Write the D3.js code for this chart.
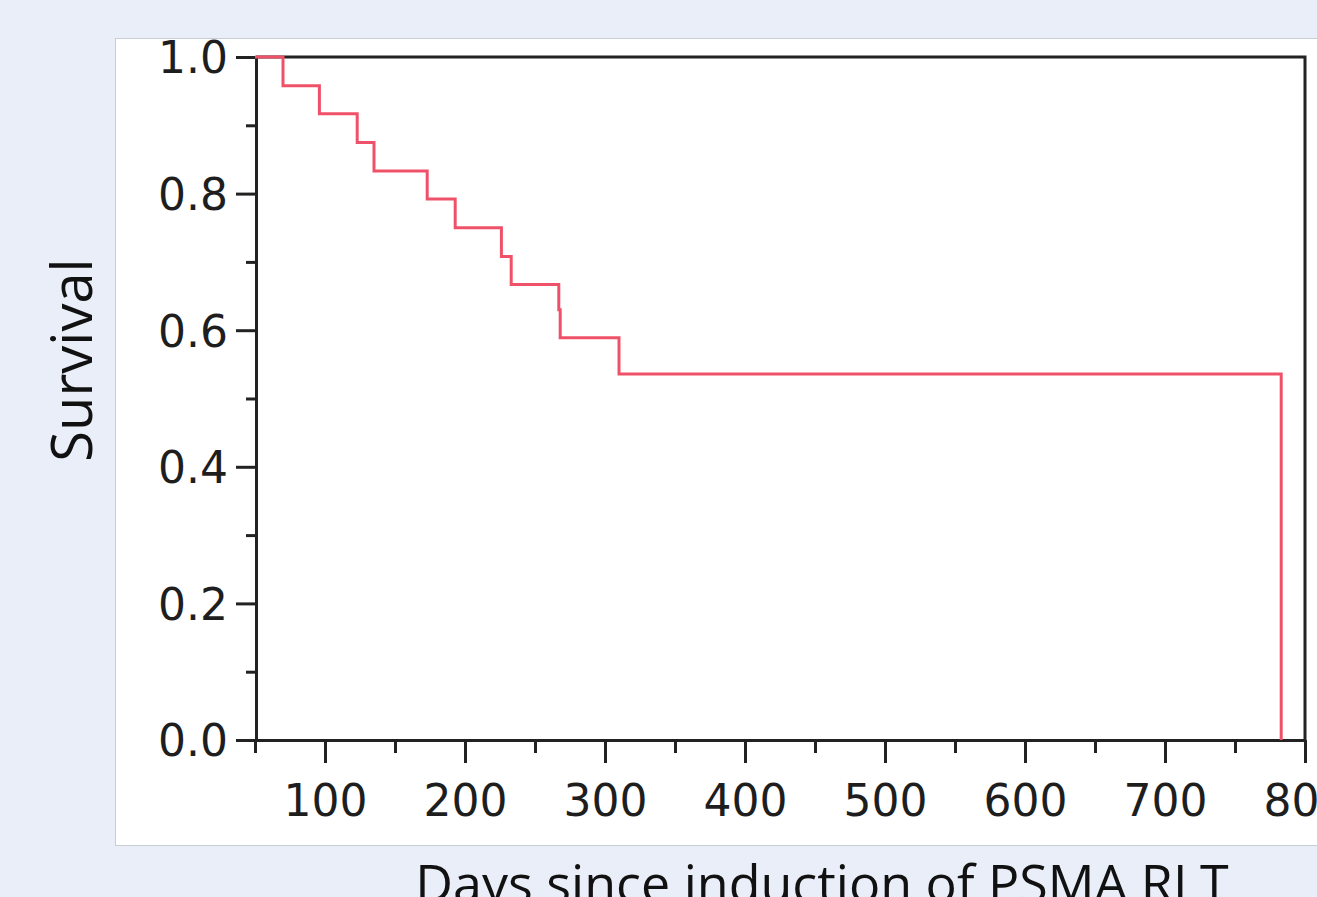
<!DOCTYPE html>
<html>
<head>
<meta charset="utf-8">
<script src="https://cdn.jsdelivr.net/npm/d3@7"></script>
<style>
  html, body { margin: 0; padding: 0; background: #e9eef8; overflow: hidden; }
  #chart { width: 1317px; height: 897px; }
  .tick text { font-family: "DejaVu Sans", Verdana, sans-serif; fill: #1e1e1e; }
</style>
</head>
<body>
<div id="chart"></div>
<script>
(function () {

  // Kaplan-Meier steps
  const days = [50, 70, 96, 123, 135, 173, 193, 226, 233, 267, 268, 310, 783]
  const survival = [1.0, 0.958, 0.917, 0.875, 0.833, 0.792, 0.75, 0.708, 0.667, 0.63, 0.589, 0.536, 0]

  // Tick values
  const xMajor = [100, 200, 300, 400, 500, 600, 700, 800]
  const xMinor = [50, 150, 250, 350, 450, 550, 650, 750]
  const yMajor = [0, 0.2, 0.4, 0.6, 0.8, 1.0]
  const yMinor = [0.1, 0.3, 0.5, 0.7, 0.9]

  const W = 1317
  const H = 897
  const plot = { left: 256, right: 1305, top: 57, bottom: 740 }

  const svg = d3.select("#chart").append("svg")
      .attr("width", W)
      .attr("height", H)

  // White panel
  svg.append("rect")
    .attr("x", 115.5)
    .attr("y", 38.5)
    .attr("width", W)
    .attr("height", 845 - 38)
    .attr("fill", "#ffffff")
    .attr("stroke", "#c9ced6")
    .attr("stroke-width", 1)

  const x = d3.scaleLinear()
    .domain([50, 800])
    .range([255, plot.right])

  const y = d3.scaleLinear()
    .domain([0, 1])
    .range([plot.bottom, plot.top])

  // Frame (top + right)
  svg.append("path")
    .attr("d", `M${plot.left},${plot.top}H${plot.right}V${plot.bottom}`)
    .attr("fill", "none")
    .attr("stroke", "#222")
    .attr("stroke-width", 3)

  // Minor ticks
  svg.append("g")
    .attr("transform", `translate(${plot.left},0)`)
    .call(d3.axisLeft(y).tickValues(yMinor).tickSize(10).tickFormat(""))
    .call(g => g.select(".domain").remove())
    .call(g => g.selectAll("line").attr("stroke", "#222").attr("stroke-width", 3))

  svg.append("g")
    .attr("transform", `translate(0,${plot.bottom})`)
    .call(d3.axisBottom(x).tickValues(xMinor).tickSize(13).tickFormat(""))
    .call(g => g.select(".domain").remove())
    .call(g => g.selectAll("line").attr("stroke", "#222").attr("stroke-width", 3))

  // Major axes
  svg.append("g")
    .attr("transform", `translate(${plot.left},0)`)
    .call(d3.axisLeft(y).tickValues(yMajor).tickSize(20).tickSizeOuter(0)
      .tickPadding(8).tickFormat(d3.format(".1f")))
    .call(g => g.select(".domain").attr("stroke", "#222").attr("stroke-width", 3))
    .call(g => g.selectAll("line").attr("stroke", "#222").attr("stroke-width", 3))
    .call(g => g.selectAll("text").attr("font-size", 44).attr("dy", "0.36em"))

  svg.append("g")
    .attr("transform", `translate(0,${plot.bottom})`)
    .call(d3.axisBottom(x).tickValues(xMajor).tickSize(23).tickSizeOuter(0)
      .tickPadding(22))
    .call(g => g.select(".domain").attr("stroke", "#222").attr("stroke-width", 3))
    .call(g => g.selectAll("line").attr("stroke", "#222").attr("stroke-width", 3))
    .call(g => g.selectAll("text").attr("font-size", 44))

  // Survival curve
  const pts = days.map((d, i) => [d, survival[i]])
  const line = d3.line()
    .x(d => x(d[0]))
    .y(d => y(d[1]))
    .curve(d3.curveStepAfter)

  svg.append("path")
    .datum(pts)
    .attr("d", line)
    .attr("fill", "none")
    .attr("stroke", "#ef5268")
    .attr("stroke-width", 3)

  // Axis titles
  svg.append("text")
    .attr("transform", "translate(92,360) rotate(-90)")
    .attr("text-anchor", "middle")
    .attr("font-family", "'Open Sans', sans-serif")
    .attr("font-size", 56)
    .attr("fill", "#111")
    .text("Survival")

  svg.append("text")
    .attr("x", 822)
    .attr("y", 902)
    .attr("text-anchor", "middle")
    .attr("font-family", "'Open Sans', sans-serif")
    .attr("font-size", 52)
    .attr("fill", "#111")
    .text("Days since induction of PSMA RLT")

})();
</script>
</body>
</html>
